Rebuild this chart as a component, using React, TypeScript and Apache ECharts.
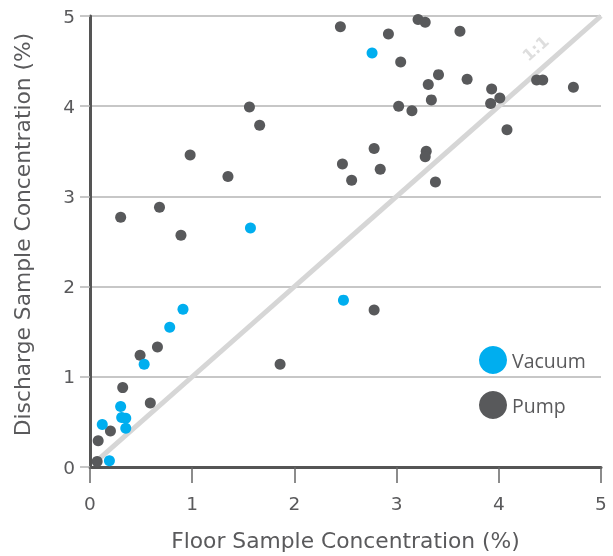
import React, { useEffect, useRef } from "react";
import * as echarts from "echarts";

const vacuumX = [2.76, 1.57, 0.91, 0.78, 0.53, 0.30, 0.31, 0.35, 0.35, 0.12, 0.19, 2.48];
const vacuumY = [4.59, 2.65, 1.75, 1.55, 1.14, 0.67, 0.55, 0.54, 0.43, 0.47, 0.07, 1.85];

const pumpX = [2.45, 2.92, 3.21, 3.28, 3.62, 3.04, 3.41, 3.69, 3.31, 3.34, 3.02, 3.15, 3.93, 4.01, 3.92, 4.37, 4.43, 4.73, 4.08, 1.56, 1.66, 0.98, 1.35, 0.68, 0.30, 0.89, 2.47, 2.56, 2.78, 2.84, 3.29, 3.28, 3.38, 2.78, 1.86, 0.49, 0.66, 0.32, 0.59, 0.20, 0.08, 0.07];
const pumpY = [4.88, 4.80, 4.96, 4.93, 4.83, 4.49, 4.35, 4.30, 4.24, 4.07, 4.00, 3.95, 4.19, 4.09, 4.03, 4.29, 4.29, 4.21, 3.74, 3.99, 3.79, 3.46, 3.22, 2.88, 2.77, 2.57, 3.36, 3.18, 3.53, 3.30, 3.50, 3.44, 3.16, 1.74, 1.14, 1.24, 1.33, 0.88, 0.71, 0.40, 0.29, 0.06];

const oneToOneLine = [[0.05, 0.05], [5, 5]];
const oneToOneLabelAt = [4.36, 4.64];
const oneToOneText = "1:1";

const seriesNames = ["Vacuum", "Pump"];
const xTitle = "Floor Sample Concentration (%)";
const yTitle = "Discharge Sample Concentration (%)";

const BLUE = "#00aeef";
const DARK = "#58595b";
const TEXT = "#5a5a5c";
const GRID = "#b4b4b4";
const LINE11 = "#d6d6d6";
const FONT = "'DejaVu Sans', sans-serif";
const LEGEND_FONT = "'Open Sans', sans-serif";

export default function App() {
  const ref = useRef<HTMLDivElement>(null);
  useEffect(() => {
    if (!ref.current) return;
    const chart = echarts.init(ref.current, undefined, { renderer: "svg" });
    const zip = (xs: number[], ys: number[]) => xs.map((x, i) => [x, ys[i]]);
    chart.setOption({
      animation: false,
      grid: { left: 90, top: 16, width: 511, height: 453 },
      legend: {
        data: seriesNames,
        orient: "vertical",
        left: 474,
        top: 341,
        itemWidth: 28,
        itemHeight: 28,
        itemGap: 17,
        icon: "circle",
        textStyle: { fontFamily: LEGEND_FONT, fontSize: 19.5, color: TEXT },
      },
      xAxis: {
        type: "value",
        min: 0,
        max: 5,
        interval: 1,
        name: xTitle,
        nameLocation: "middle",
        nameGap: 62,
        nameTextStyle: { fontFamily: FONT, fontSize: 21.8, color: TEXT },
        axisLine: { show: true, lineStyle: { color: "#555555", width: 3 } },
        axisTick: { show: true, length: 16, lineStyle: { color: "#666666", width: 1.5 } },
        axisLabel: { margin: 27, fontFamily: FONT, fontSize: 18.5, color: TEXT },
        splitLine: { show: false },
      },
      yAxis: {
        type: "value",
        min: 0,
        max: 5,
        interval: 1,
        name: yTitle,
        nameLocation: "middle",
        nameGap: 57,
        nameTextStyle: { fontFamily: FONT, fontSize: 21.8, color: TEXT, padding: [0, 0, 0, 14] },
        axisLine: { show: true, lineStyle: { color: "#555555", width: 3 } },
        axisTick: { show: true, length: 10, lineStyle: { color: GRID, width: 1.5 } },
        axisLabel: { margin: 15, fontFamily: FONT, fontSize: 18.5, color: TEXT },
        splitLine: { show: true, lineStyle: { color: GRID, width: 1.5 } },
      },
      series: [
        {
          type: "line",
          data: oneToOneLine,
          symbol: "none",
          lineStyle: { color: LINE11, width: 5 },
          silent: true,
          z: 1,
        },
        {
          type: "scatter",
          data: [oneToOneLabelAt],
          symbol: "circle",
          symbolSize: 1,
          itemStyle: { color: "rgba(0,0,0,0)" },
          silent: true,
          z: 1,
          label: {
            show: true,
            position: "inside",
            formatter: oneToOneText,
            rotate: 41.6,
            fontFamily: FONT,
            fontWeight: "bold",
            fontSize: 16,
            color: LINE11,
          },
        },
        {
          name: "Pump",
          type: "scatter",
          data: zip(pumpX, pumpY),
          symbol: "circle",
          symbolSize: 11,
          itemStyle: { color: DARK, opacity: 1 },
          z: 3,
        },
        {
          name: "Vacuum",
          type: "scatter",
          data: zip(vacuumX, vacuumY),
          symbol: "circle",
          symbolSize: 11,
          itemStyle: { color: BLUE, opacity: 1 },
          z: 4,
        },
      ],
    });
    return () => chart.dispose();
  }, []);
  return (
    <div
      ref={ref}
      style={{ position: "fixed", left: 0, top: 0, width: 613, height: 556 }}
    />
  );
}
